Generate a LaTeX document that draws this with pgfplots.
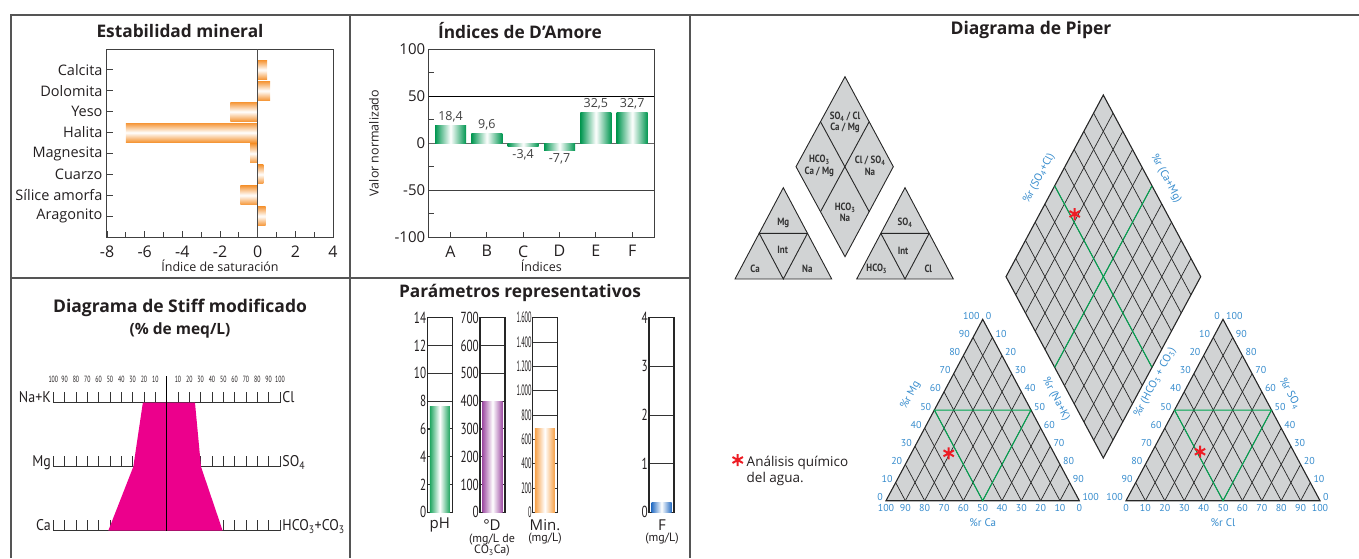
\documentclass[border=0pt]{standalone}
\usepackage{fontspec}
\setmainfont{Open Sans}
\newfontfamily\pts{PT Sans}
\usepackage{pgfplots}
\pgfplotsset{compat=1.18}
\pgfkeys{/pgf/number format/assume math mode=true}
\newcommand{\fs}[1]{\fontsize{#1}{#1}\selectfont}
\definecolor{framec}{RGB}{85,85,85}
\definecolor{orangeS}{RGB}{245,150,55}
\definecolor{greenS}{RGB}{0,150,80}
\definecolor{greenPH}{RGB}{30,165,95}
\definecolor{purpleD}{RGB}{160,80,165}
\definecolor{orangeM}{RGB}{247,160,70}
\definecolor{blueF}{RGB}{40,110,195}
\definecolor{magS}{RGB}{236,0,140}
\definecolor{pgray}{RGB}{209,211,212}
\definecolor{pblue}{RGB}{55,140,205}
\definecolor{pgreen}{RGB}{0,166,81}
\definecolor{pred}{RGB}{237,28,36}
\definecolor{txt}{RGB}{35,31,32}
\pgfplotsset{
  param/.style={anchor=south west, scale only axis, width=25pt, height=194.6pt,
    xmin=-0.5, xmax=0.5, ymin=0, xtick=\empty, ybar, bar width=20pt,
    ymajorgrids, grid style={black!80, line width=0.9pt},
    ytick pos=left, tick align=inside, major tick length=3pt,
    tick style={black!80, line width=0.8pt},
    axis line style={black!85, line width=1.1pt},
    yticklabel style={font=\pts\fs{16}, xscale=0.7, inner sep=1.5pt, text=txt},
    enlargelimits=false},
  obar/.style={draw=none, top color=orangeS, bottom color=orangeS, middle color=white},
  gbar/.style={draw=none, left color=greenS, right color=greenS, middle color=white},
}
\tikzset{
  pgrid/.style={black!85, line width=0.7pt},
  pout/.style={black!85, line width=1.1pt},
}
\begin{document}
\begin{tikzpicture}
\useasboundingbox (0,0) rectangle (1359pt,558pt);
% ---------------- canvas (pixel coordinates, y = -py) ----------------
\begin{axis}[at={(0pt,0pt)}, anchor=south west, x=1pt, y=1pt,
  xmin=0, xmax=1359, ymin=-558, ymax=0, hide axis, clip=false]
% frames
\draw[framec, line width=1.6pt] (11,-558) -- (11,-15) -- (1359,-15);
\draw[framec, line width=1.6pt] (350,-15) -- (350,-558);
\draw[framec, line width=1.6pt] (690,-15) -- (690,-558);
\draw[framec, line width=1.6pt] (11,-278) -- (690,-278);
% titles
\node[font=\fs{17.3}\bfseries, text=txt] at (180,-31) {Estabilidad mineral};
\node[font=\fs{17.3}\bfseries, text=txt] at (520,-31) {Índices de D’Amore};
\node[font=\fs{17.5}\bfseries, text=txt] at (180,-308) {Diagrama de Stiff modificado};
\node[font=\fs{15.5}\bfseries, text=txt] at (180,-330) {(\% de meq/L)};
\node[font=\fs{17.3}\bfseries, text=txt] at (520,-293) {Parámetros representativos};
\node[font=\fs{17.5}\bfseries, text=txt] at (1031,-30) {Diagrama de Piper};
% parameter labels
\node[font=\fs{15}, text=txt] at (439.7,-525) {pH};
\node[font=\fs{15}, text=txt] at (492,-525) {°D};
\node[font=\pts\fs{12}, text=txt, align=center] at (492,-545) {(mg/L de\\[-1pt]CO\textsubscript{3}Ca)};
\node[font=\fs{15}, text=txt] at (545,-525) {Min.};
\node[font=\pts\fs{12}, text=txt] at (545,-539) {(mg/L)};
\node[font=\fs{15}, text=txt] at (662,-525) {F};
\node[font=\pts\fs{12}, text=txt] at (662,-539) {(mg/L)};
% ---- Piper: schematic diamond and triangles ----
\draw[fill=pgray, draw=black!85, line width=0.9pt] (845,-76.7) -- (893.3,-166.7) -- (845,-256.7) -- (796,-166.7) -- cycle;
\draw[black!85, line width=0.9pt] (820.5,-121.7) -- (869.2,-211.7);
\draw[black!85, line width=0.9pt] (869.2,-121.7) -- (820.5,-211.7);
\draw[fill=pgray, draw=black!85, line width=0.9pt] (735,-279) -- (783.3,-187.7) -- (831.7,-279) -- cycle;
\draw[black!85, line width=0.9pt] (759.2,-233.3) -- (807.5,-233.3) -- (783.3,-279) -- cycle;
\draw[fill=pgray, draw=black!85, line width=0.9pt] (856.7,-279) -- (905,-187.7) -- (953.3,-279) -- cycle;
\draw[black!85, line width=0.9pt] (880.8,-233.3) -- (929.2,-233.3) -- (905,-279) -- cycle;
\begin{scope}[every node/.style={font=\pts\fs{10.5}\bfseries, text=black!80, xscale=0.85, align=center, inner sep=0pt}]
\node at (845,-122.5) {SO\textsubscript{4} / Cl\\[1pt]Ca / Mg};
\node at (819.3,-166) {HCO\textsubscript{3}\\[1pt]Ca / Mg};
\node at (870,-166) {Cl / SO\textsubscript{4}\\[1pt]Na};
\node at (845,-212.5) {HCO\textsubscript{3}\\[1pt]Na};
\node at (783.3,-222.7) {Mg};
\node at (782.7,-250) {Int};
\node at (755,-269) {Ca};
\node at (807.3,-269) {Na};
\node at (905,-222.7) {SO\textsubscript{4}};
\node at (903,-251) {Int};
\node at (876.7,-269) {HCO\textsubscript{3}};
\node at (928.3,-269) {Cl};
\end{scope}
% ---- Piper: main diamond ----
\fill[pgray] (1103.3,-95) -- (1200.7,-276.7) -- (1103.3,-458) -- (1006,-276.7) -- cycle;
\pgfplotsinvokeforeach{1,...,9}{
  \draw[pgrid] ({1103.3+9.74*#1},{-95-18.17*#1}) -- ({1006+9.74*#1},{-276.7-18.17*#1});
  \draw[pgrid] ({1103.3-9.73*#1},{-95-18.17*#1}) -- ({1200.7-9.73*#1},{-276.7-18.17*#1});
}
\draw[pout] (1103.3,-95) -- (1200.7,-276.7) -- (1103.3,-458) -- (1006,-276.7) -- cycle;
\draw[pgreen, line width=1pt] (1054.65,-185.85) -- (1152,-367.35);
\draw[pgreen, line width=1pt] (1152,-185.85) -- (1054.65,-367.35);
% ---- Piper: cation triangle ----
\fill[pgray] (886,-500.7) -- (982.7,-319.3) -- (1079.3,-500.7) -- cycle;
\pgfplotsinvokeforeach{1,...,9}{
  \draw[pgrid] ({886+19.33*#1},-500.7) -- ({982.7+9.66*#1},{-319.3-18.14*#1});
  \draw[pgrid] ({886+19.33*#1},-500.7) -- ({886+9.67*#1},{-500.7+18.14*#1});
}
\draw[pout] (886,-500.7) -- (982.7,-319.3) -- (1079.3,-500.7) -- cycle;
\draw[pgreen, line width=1pt] (934.35,-410) -- (1031,-410) -- (982.7,-500.7) -- cycle;
% ---- Piper: anion triangle ----
\fill[pgray] (1126,-500.7) -- (1223,-319.3) -- (1320,-500.7) -- cycle;
\pgfplotsinvokeforeach{1,...,9}{
  \draw[pgrid] ({1126+19.4*#1},-500.7) -- ({1223+9.7*#1},{-319.3-18.14*#1});
  \draw[pgrid] ({1126+19.4*#1},-500.7) -- ({1126+9.7*#1},{-500.7+18.14*#1});
}
\draw[pout] (1126,-500.7) -- (1223,-319.3) -- (1320,-500.7) -- cycle;
\draw[pgreen, line width=1pt] (1174.5,-410) -- (1271.5,-410) -- (1223,-500.7) -- cycle;
% ---- Piper: scale numbers ----
\begin{scope}[every node/.style={font=\pts\fs{10}, text=pblue, inner sep=0pt}]
\pgfplotsinvokeforeach{0,...,10}{
  \node[anchor=east] at ({886+9.67*#1-3},{-500.7+18.14*#1+3.5}) {\pgfmathtruncatemacro\v{10*#1}\v};
  \node[anchor=west] at ({982.7+9.66*#1+3},{-319.3-18.14*#1+3.5}) {\pgfmathtruncatemacro\v{10*#1}\v};
  \node[anchor=north] at ({886+19.33*#1},-504) {\pgfmathtruncatemacro\v{100-10*#1}\v};
  \node[anchor=east] at ({1223-9.7*#1-3},{-319.3-18.14*#1+3.5}) {\pgfmathtruncatemacro\v{10*#1}\v};
  \node[anchor=west] at ({1223+9.7*#1+3},{-319.3-18.14*#1+3.5}) {\pgfmathtruncatemacro\v{100-10*#1}\v};
  \node[anchor=north] at ({1126+19.4*#1},-504) {\pgfmathtruncatemacro\v{10*#1}\v};
}
\end{scope}
\begin{scope}[every node/.style={font=\pts\fs{11}, text=pblue, inner sep=0pt}]
\node at (982.7,-523) {\%r Ca};
\node[rotate=61.8] at (910.5,-395.5) {\%r Mg};
\node[rotate=-61.8] at (1056,-399) {\%r (Na+K)};
\node at (1223,-523) {\%r Cl};
\node[rotate=61.8] at (1155,-382.5) {\%r (HCO\textsubscript{3} + CO\textsubscript{3})};
\node[rotate=-61.8] at (1290,-393.5) {\%r SO\textsubscript{4}};
\node[rotate=61.8] at (1039,-178.5) {\%r (SO\textsubscript{4}+Cl)};
\node[rotate=-61.8] at (1166,-178.5) {\%r (Ca+Mg)};
\end{scope}
% sample points (Piper) and legend marker
\addplot[only marks, mark=asterisk, mark size=6pt, color=pred, line width=2pt]
  coordinates {(948.7,-453.3) (1200,-451.7) (1074.7,-214) (737.7,-460)};
\node[anchor=north west, font=\fontsize{13.5}{16}\selectfont, text=txt, align=left, inner sep=0pt] at (746.5,-456) {Análisis químico\\del agua.};
\end{axis}

% ---------------- Estabilidad mineral ----------------
\begin{axis}[at={(107pt,321pt)}, anchor=south west, scale only axis, width=226pt, height=188pt,
  xmin=-8, xmax=4, ymin=0, ymax=9, enlargelimits=false,
  xbar, bar width=19pt, bar shift=0pt,
  ytick={1,...,8}, yticklabels={Aragonito,Sílice amorfa,Cuarzo,Magnesita,Halita,Yeso,Dolomita,Calcita},
  xtick={-8,-6,...,4}, minor xtick={-7,-5,...,3},
  xtick pos=left, ytick pos=left, tick align=inside,
  major tick length=6pt, minor tick length=5pt,
  tick style={black!75, line width=0.8pt},
  axis line style={black!75, line width=1pt},
  yticklabel style={font=\fs{14.5}, text=txt, xshift=-1pt},
  xticklabel style={font=\fs{16}, text=txt, yshift=-5pt},
  xlabel={Índice de saturación}, xlabel style={font=\fs{12.5}, text=txt, yshift=4pt},
]
\addplot[obar] coordinates {(0.42,1)};
\addplot[obar] coordinates {(-0.92,2)};
\addplot[obar] coordinates {(0.3,3)};
\addplot[obar] coordinates {(-0.4,4)};
\addplot[obar] coordinates {(-7.0,5)};
\addplot[obar] coordinates {(-1.45,6)};
\addplot[obar] coordinates {(0.66,7)};
\addplot[obar] coordinates {(0.5,8)};
\draw[black!70, line width=1pt] (0,0) -- (0,9);
\end{axis}

% ---------------- Indices de D'Amore ----------------
\begin{axis}[at={(428.7pt,321pt)}, anchor=south west, scale only axis, width=225.3pt, height=188pt,
  xmin=0.4, xmax=6.6, ymin=-100, ymax=100, enlargelimits=false,
  ybar, bar width=31pt, bar shift=0pt,
  xtick={1,...,6}, xticklabels={A,B,C,D,E,F},
  ytick={-100,-50,0,50,100}, minor ytick={-75,-25,25,75},
  xtick pos=left, ytick pos=left, tick align=inside,
  major tick length=5pt, minor tick length=5pt,
  tick style={black!75, line width=0.8pt},
  axis line style={black!75, line width=1pt},
  xticklabel style={font=\fs{16}, text=txt, yshift=-5pt},
  yticklabel style={font=\fs{15}, text=txt},
  xlabel={Índices}, xlabel style={font=\fs{12.5}, text=txt, yshift=4pt},
  ylabel={Valor normalizado}, ylabel style={font=\fs{12.5}, text=txt, yshift=9pt},
  nodes near coords={\pgfmathprintnumber[use comma,fixed,fixed zerofill,precision=1]{\pgfplotspointmeta}},
  nodes near coords align=vertical,
  every node near coord/.append style={font=\fs{12.5}, text=black!75},
]
\draw[black, line width=1pt] (0.4,50) -- (6.6,50);
\draw[black!75, line width=1pt] (0.4,-50) -- (6.6,-50);
\draw[black!60, line width=1pt] (0.4,0) -- (6.6,0);
\addplot[gbar] coordinates {(1,18.4)};
\addplot[gbar] coordinates {(2,9.6)};
\addplot[gbar] coordinates {(3,-3.4)};
\addplot[gbar] coordinates {(4,-7.7)};
\addplot[gbar] coordinates {(5,32.5)};
\addplot[gbar] coordinates {(6,32.7)};
\end{axis}

% ---------------- Stiff ----------------
\begin{axis}[at={(53.3pt,27.3pt)}, anchor=south west, scale only axis, width=226.7pt, height=128pt,
  xmin=-100, xmax=100, ymin=0, ymax=2, hide axis, clip=false]
\pgfplotsinvokeforeach{0,1,2}{\draw[black!80, line width=1pt] (-100,#1) -- (100,#1);}
\pgfplotsinvokeforeach{-100,-90,...,100}{
  \draw[black!80, line width=0.9pt] (#1,0) -- (#1,0.172);
  \draw[black!80, line width=0.9pt] (#1,1) -- (#1,1.172);
  \draw[black!80, line width=0.9pt] (#1,2) -- (#1,2.172);
}
\addplot[fill=magS, draw=none] coordinates {(-21,2) (25,2) (30.3,1) (49.4,0) (-51.5,0) (-29.4,1) (-21,2)};
\draw[black, line width=1pt] (0,0) -- (0,2.41);
\pgfplotsinvokeforeach{10,20,...,100}{
  \node[font=\pts\fs{9}, xscale=0.65, text=txt, inner sep=0pt] at (-#1,2.37) {#1};
  \node[font=\pts\fs{9}, xscale=0.65, text=txt, inner sep=0pt] at (#1,2.37) {#1};
}
\begin{scope}[every node/.style={font=\pts\fs{15.5}, text=txt, xscale=0.9, inner sep=0pt}]
\node[anchor=base east] at (-102,2) {Na+K};
\node[anchor=base east] at (-102,1) {Mg};
\node[anchor=base east] at (-102,0) {Ca};
\node[anchor=base west] at (102,2) {Cl};
\node[anchor=base west] at (102,1) {SO\textsubscript{4}};
\node[anchor=base west] at (102,0) {HCO\textsubscript{3}+CO\textsubscript{3}};
\end{scope}
\end{axis}

% ---------------- Parametros representativos ----------------
\begin{axis}[param, at={(427.3pt,45.7pt)}, ymax=14, ytick={0,2,...,14}]
\addplot[draw=none, left color=greenPH, right color=greenPH, middle color=white] coordinates {(0,7.6)};
\end{axis}
\begin{axis}[param, at={(480pt,45.7pt)}, ymax=700, ytick={0,100,...,700}]
\addplot[draw=none, left color=purpleD, right color=purpleD, middle color=white] coordinates {(0,400)};
\end{axis}
\begin{axis}[param, at={(532.3pt,45.7pt)}, ymax=1600, ytick={0,200,...,1600},
  yticklabels={0,200,400,600,800,1.000,1.200,1.400,1.600},
  yticklabel style={font=\pts\fs{15}, xscale=0.6}]
\addplot[draw=none, left color=orangeM, right color=orangeM, middle color=white] coordinates {(0,690)};
\end{axis}
\begin{axis}[param, at={(649pt,45.7pt)}, ymax=4, ytick={0,1,...,4}]
\addplot[draw=none, left color=blueF, right color=blueF, middle color=white] coordinates {(0,0.2)};
\end{axis}
\end{tikzpicture}
\end{document}
